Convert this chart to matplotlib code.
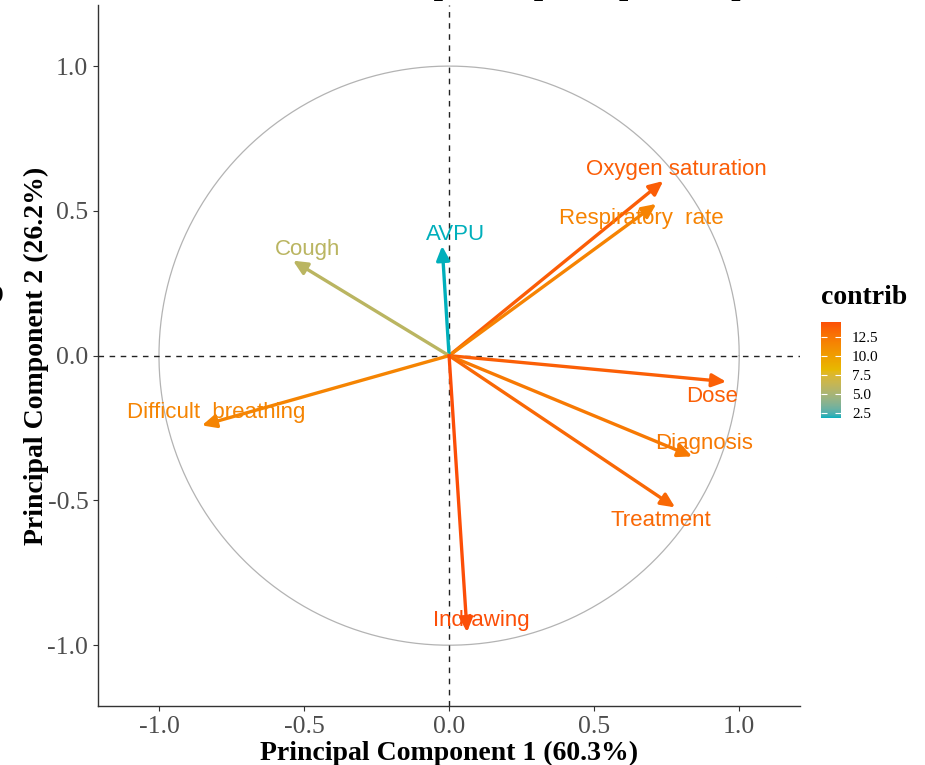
import matplotlib
matplotlib.use("Agg")
import matplotlib.pyplot as plt
import numpy as np
from matplotlib.colors import LinearSegmentedColormap, Normalize, to_rgb
from matplotlib.cm import ScalarMappable

plt.rcParams['axes.unicode_minus'] = False

# PCA variable coordinates (loadings)
variables = ["Oxygen saturation", "Respiratory  rate", "AVPU", "Cough",
             "Difficult  breathing", "Dose", "Diagnosis", "Treatment", "Indrawing"]
pc1 = [0.738, 0.714, -0.024, -0.538, -0.852, 0.955, 0.838, 0.779, 0.062]
pc2 = [0.603, 0.524, 0.379, 0.328, -0.241, -0.090, -0.348, -0.524, -0.955]
contrib = [13.9, 11.8, 1.8, 5.8, 11.7, 13.8, 12.4, 13.3, 14.6]

# label offsets from arrow tips, in pixels
label_offsets = [(13, 12), (-15, -15), (13, 11), (15, 11), (14, 13),
                 (-14, -15), (12, 13), (-14, -13), (14, 12)]

xticks = [-1.0, -0.5, 0.0, 0.5, 1.0]
yticks = [-1.0, -0.5, 0.0, 0.5, 1.0]
cbar_ticks = [2.5, 5.0, 7.5, 10.0, 12.5]
grad_cols = ["#00AFBB", "#E7B800", "#FC4E07"]


# ggplot interpolates gradients in CIELAB, do the same here
WHITE = np.array([0.95047, 1.0, 1.08883])
M = np.array([[0.4124, 0.3576, 0.1805],
              [0.2126, 0.7152, 0.0722],
              [0.0193, 0.1192, 0.9505]])


def to_lab(col):
    c = np.array(to_rgb(col))
    c = np.where(c <= 0.04045, c / 12.92, ((c + 0.055) / 1.055) ** 2.4)
    t = M @ c / WHITE
    f = np.where(t > 0.008856, np.cbrt(t), 7.787 * t + 16 / 116)
    return np.array([116 * f[1] - 16, 500 * (f[0] - f[1]), 200 * (f[1] - f[2])])


def from_lab(lab):
    fy = (lab[0] + 16) / 116
    f = np.array([fy + lab[1] / 500, fy, fy - lab[2] / 200])
    t = np.where(f ** 3 > 0.008856, f ** 3, (f - 16 / 116) / 7.787) * WHITE
    c = np.linalg.solve(M, t)
    c = np.where(c <= 0.0031308, 12.92 * c, 1.055 * np.clip(c, 0, None) ** (1 / 2.4) - 0.055)
    return np.clip(c, 0, 1)


labs = [to_lab(c) for c in grad_cols]
samples = []
for s in np.linspace(0, 1, 256):
    seg = min(int(s * 2), 1)
    u = s * 2 - seg
    samples.append(from_lab(labs[seg] * (1 - u) + labs[seg + 1] * u))
cmap = LinearSegmentedColormap.from_list("contrib", samples)
norm = Normalize(vmin=min(contrib), vmax=max(contrib))

fig = plt.figure(figsize=(9.25, 7.65), dpi=100)
ax = fig.add_axes([0.106, 0.0771, 0.759, 0.916])

lim = 1.21
ax.set_xlim(-lim, lim)
ax.set_ylim(-lim, lim)

theta = np.linspace(0, 2 * np.pi, 400)
ax.plot(np.cos(theta), np.sin(theta), color='#B3B3B3', lw=0.9, zorder=1)
ax.axhline(0, color='#222222', lw=1.0, ls=(0, (4, 4)), zorder=1)
ax.axvline(0, color='#222222', lw=1.0, ls=(0, (4, 4)), zorder=1)

for name, x, y, c, off in zip(variables, pc1, pc2, contrib, label_offsets):
    col = cmap(norm(c))
    ax.annotate("", xy=(x, y), xytext=(0, 0),
                arrowprops=dict(arrowstyle='-|>,head_length=0.6,head_width=0.28',
                                color=col, lw=2.4, shrinkA=0, shrinkB=0,
                                mutation_scale=14), zorder=3)
    ax.annotate(name, xy=(x, y), xytext=off, textcoords='offset pixels',
                ha='center', va='center', fontsize=16, color=col,
                family='Liberation Sans', zorder=4)

for s in ['top', 'right']:
    ax.spines[s].set_visible(False)
for s in ['left', 'bottom']:
    ax.spines[s].set_color('#333333')
    ax.spines[s].set_linewidth(1.0)

ax.set_xticks(xticks)
ax.set_yticks(yticks)
ax.set_xticklabels([f"{v:.1f}" for v in xticks])
ax.set_yticklabels([f"{v:.1f}" for v in yticks])
ax.tick_params(labelsize=18.5, labelcolor='#4D4D4D', color='#333333', length=3.5, width=0.8)
for lbl in ax.get_xticklabels() + ax.get_yticklabels():
    lbl.set_family('Liberation Serif')

ax.set_xlabel("Principal Component 1 (60.3%)", fontsize=20, fontweight='bold',
              family='Liberation Serif', labelpad=2)
ax.set_ylabel("Principal Component 2 (26.2%)", fontsize=20, fontweight='bold',
              family='Liberation Serif', labelpad=-1)

# colour bar
cax = fig.add_axes([0.8876, 0.4536, 0.0216, 0.126])
cb = fig.colorbar(ScalarMappable(norm=norm, cmap=cmap), cax=cax, ticks=cbar_ticks)
cb.outline.set_visible(False)
cax.tick_params(which='both', left=True, right=True, direction='in',
                color='white', length=4, width=0.8, labelsize=11, pad=8)
for lbl in cax.get_yticklabels():
    lbl.set_family('Liberation Serif')
fig.text(0.8876, 0.595, "contrib", fontsize=20, fontweight='bold',
         family='Liberation Serif', ha='left', va='bottom')

# title and panel letter, clipped by the figure edge as in the source
fig.text(0.62, 1.0075, "Variable plot of principal components", fontsize=24,
         fontweight='bold', family='Liberation Serif', ha='center', va='baseline')
fig.text(-0.018, 0.615, "b", fontsize=26, fontweight='bold',
         family='Liberation Serif', ha='left', va='center')

fig.savefig("out.png", dpi=100)
